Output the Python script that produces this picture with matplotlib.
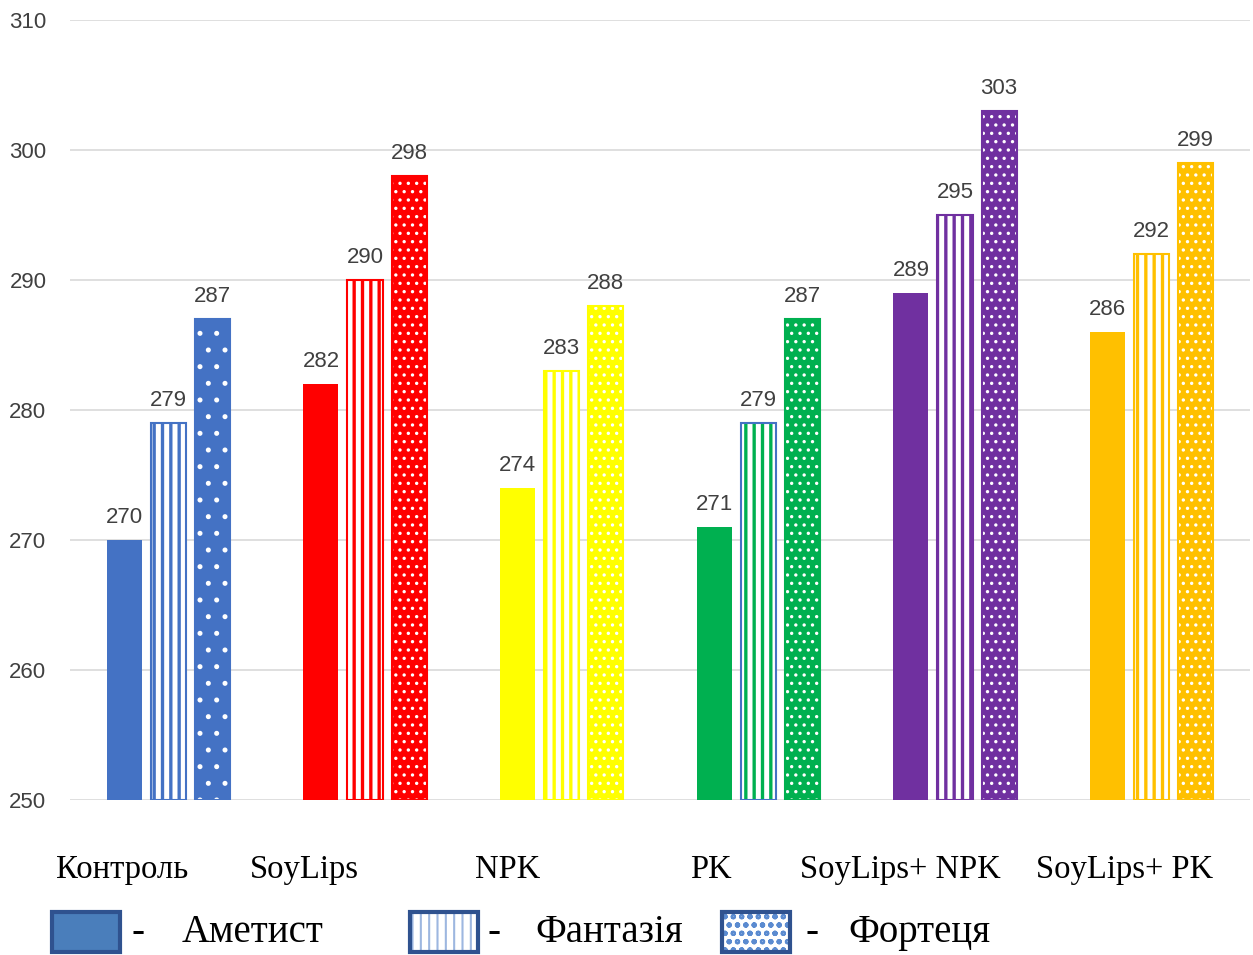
import numpy as np
import matplotlib
matplotlib.use("Agg")
import matplotlib.pyplot as plt
from matplotlib.patches import Rectangle

categories = ["Контроль", "SoyLips", "NPK", "PK", "SoyLips+ NPK", "SoyLips+ PK"]
varieties = ["Аметист", "Фантазія", "Фортеця"]
ametyst = [270, 282, 274, 271, 289, 286]
fantasia = [279, 290, 283, 279, 295, 292]
fortetsia = [287, 298, 288, 287, 303, 299]
group_colors = ["#4472C4", "#FF0000", "#FFFF00", "#00B050", "#7030A0", "#FFC000"]
stripe_edges = ["#4472C4", "#FF0000", "#FFFF00", "#4472C4", "#7030A0", "#FFC000"]
yticks = [250, 260, 270, 280, 290, 300, 310]

W, H = 1253, 955
fig = plt.figure(figsize=(W / 100, H / 100), dpi=100)
ax = fig.add_axes([70 / W, 1 - 800 / H, 1180 / W, 780 / H])

x = np.arange(len(categories))
step = 0.224
width = 0.178
label_font = dict(family="Liberation Sans", fontsize=16, color="#404040")

for i in range(len(categories)):
    c = group_colors[i]
    # solid bar
    ax.bar(x[i] - step, ametyst[i] - 250, width, bottom=250, color=c, linewidth=0, zorder=3)
    # striped bar: hatch then outline
    plt.rcParams["hatch.linewidth"] = 2.4
    ax.bar(x[i], fantasia[i] - 250, width, bottom=250, facecolor="white",
           edgecolor=c, hatch="||", linewidth=0, zorder=3)
    ax.bar(x[i], fantasia[i] - 250, width, bottom=250, fill=False,
           edgecolor=stripe_edges[i], linewidth=1.5, zorder=4)
    # dotted bar
    plt.rcParams["hatch.linewidth"] = 1.2
    ax.bar(x[i] + step, fortetsia[i] - 250, width, bottom=250, facecolor=c,
           edgecolor="white", hatch="." if i == 0 else "..", linewidth=0, zorder=3)
    ax.bar(x[i] + step, fortetsia[i] - 250, width, bottom=250, fill=False,
           edgecolor=c, linewidth=1.5, zorder=4)
    for dx, v in zip((-step, 0, step), (ametyst[i], fantasia[i], fortetsia[i])):
        ax.annotate(str(v), (x[i] + dx, v), xytext=(0, 9), textcoords="offset points",
                    ha="center", va="bottom", **label_font)

ax.set_xlim(-0.5, len(categories) - 0.5)
ax.set_ylim(250, 310)
ax.set_yticks(yticks)
ax.set_yticklabels([str(t) for t in yticks], **label_font)
ax.tick_params(axis="y", length=0, pad=17)
ax.set_xticks([])
ax.grid(axis="y", color="#D9D9D9", linewidth=1.2, zorder=0)
for s in ax.spines.values():
    s.set_visible(False)

# category names under the groups
serif = dict(family="Liberation Serif", color="black")
cat_x = [122, 304, 508, 711, 900, 1125]
for name, px in zip(categories, cat_x):
    fig.text(px / W, 1 - 870 / H, name, ha="center", va="center", fontsize=23.5, **serif)

# legend row
sw_x = [52, 410, 722]
dash_x = [138, 494, 812]
text_x = [182, 535, 848]
sw_w, sw_h, sw_top = 68, 40, 912
plt.rcParams["hatch.linewidth"] = 1.5
swatches = [
    dict(facecolor="#4A7EBB", hatch=None),
    dict(facecolor="white", hatch="||", edgecolor="#9DB7E0"),
    dict(facecolor="white", hatch="oo", edgecolor="#5B8BD0"),
]
for k in range(3):
    rect_ax = fig.add_axes([sw_x[k] / W, 1 - (sw_top + sw_h) / H, sw_w / W, sw_h / H])
    rect_ax.set_axis_off()
    st = swatches[k]
    rect_ax.add_patch(Rectangle((0, 0), 1, 1, facecolor=st["facecolor"],
                                edgecolor=st.get("edgecolor", st["facecolor"]),
                                hatch=st["hatch"], linewidth=0, transform=rect_ax.transAxes))
    rect_ax.add_patch(Rectangle((0, 0), 1, 1, fill=False, edgecolor="#2F528F",
                                linewidth=3, transform=rect_ax.transAxes, clip_on=False))
    fig.text(dash_x[k] / W, 1 - 932 / H, "-", ha="center", va="center", fontsize=28, **serif)
    fig.text(text_x[k] / W, 1 - 932 / H, varieties[k], ha="left", va="center", fontsize=28, **serif)

fig.savefig("out.png", dpi=100)
